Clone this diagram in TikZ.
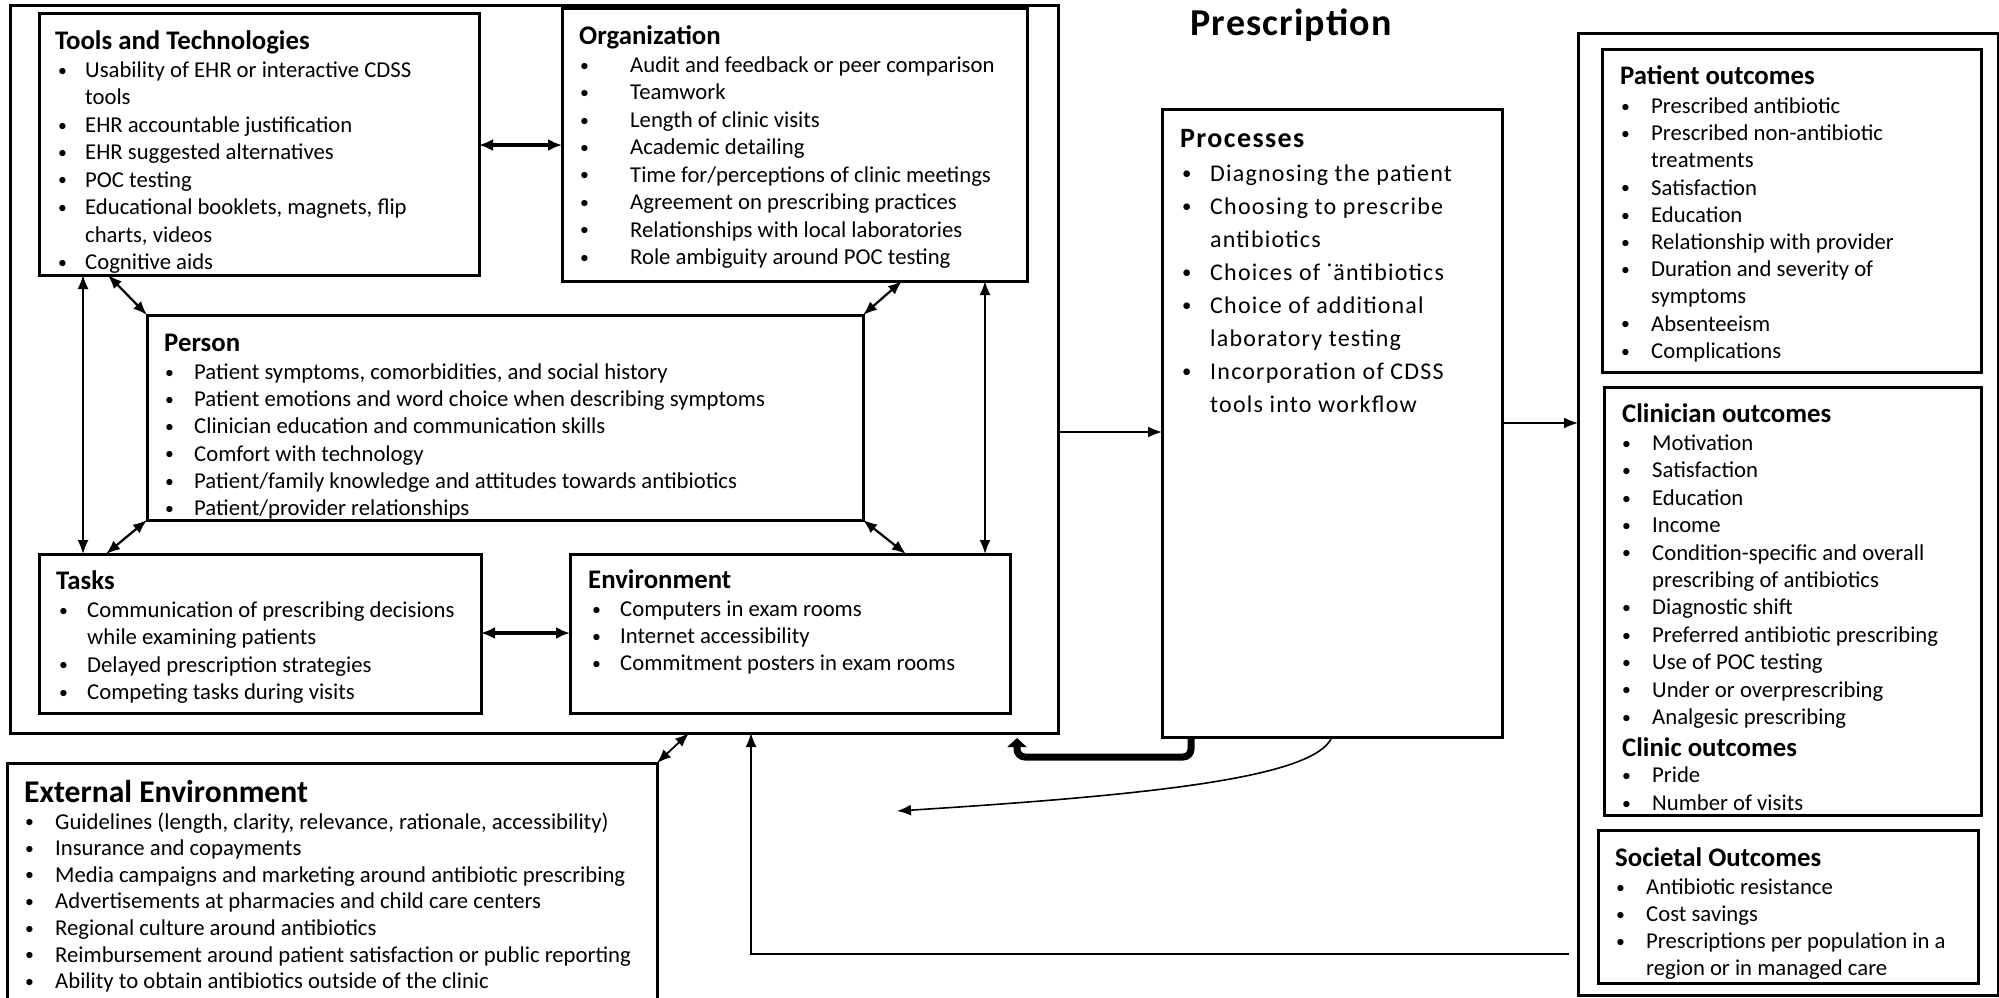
\documentclass[tikz,border=0pt]{standalone}
\usepackage{fontspec}
\usepackage{graphicx}
\setmainfont{Carlito}
\newfontfamily\procfont{Carlito}[LetterSpace=5]
\newfontfamily\bigtitlefont{Carlito}[LetterSpace=3]
\usetikzlibrary{arrows.meta,calc}

% bullet list helpers: \bl starts a bulleted line, \cn continues it
\newlength\bulind
\setlength\bulind{28pt}
\newcommand\smallbullet{\raisebox{0.12ex}{\scalebox{0.78}{\textbullet}}}
\newcommand\bl[1]{\makebox[\bulind][l]{\smallbullet}#1}
\newcommand\cn[1]{\hspace*{\bulind}#1}
\newcommand\bodyfont[1]{\fontsize{22.7}{#1}\selectfont}

\tikzset{
  frame/.style={draw, line width=3pt, inner sep=0pt, outer sep=0pt, anchor=north west},
  head/.style={anchor=base west, inner sep=0pt, font=\fontsize{26.8}{30}\selectfont\bfseries},
  items/.style={anchor=base west, inner sep=0pt},
  both/.style={line width=2.2pt, {Latex[length=14pt,width=11pt]}-{Latex[length=14pt,width=11pt]}},
  bothheavy/.style={line width=3.2pt, {Latex[length=14pt,width=12pt]}-{Latex[length=14pt,width=12pt]}},
  flow/.style={line width=1.8pt, -{Latex[length=14pt,width=11pt]}},
}

\begin{document}
\begin{tikzpicture}[x=1pt,y=-1pt]
\fill[white] (0,0) rectangle (1999,997);
\useasboundingbox (0,0) rectangle (1999,997);

% ---------- work system (left group) ----------
\node[frame, minimum width=1048pt, minimum height=728pt] (outer) at (10,5) {};
\node[frame, minimum width=440pt, minimum height=262pt] (tools) at (39,13) {};
\node[frame, minimum width=465pt, minimum height=273pt] (org) at (562,8) {};
\node[frame, minimum width=716pt, minimum height=205pt] (person) at (147,315) {};
\node[frame, minimum width=442pt, minimum height=159pt] (tasks) at (39,554) {};
\node[frame, minimum width=440pt, minimum height=159pt] (env) at (570,554) {};
\node[frame, minimum width=650pt, minimum height=260pt] (extenv) at (7,763) {};

\node[head] (toolsT) at (55,49) {Tools and Technologies};
\node[items, font=\bodyfont{27.43}] (toolsL) at (58,77.5) {\setlength\bulind{27pt}%
  \begin{tabular}[t]{@{}l@{}}
  \bl{Usability of EHR or interactive CDSS}\\
  \cn{tools}\\
  \bl{EHR accountable justification}\\
  \bl{EHR suggested alternatives}\\
  \bl{POC testing}\\
  \bl{Educational booklets, magnets, flip}\\
  \cn{charts, videos}\\
  \bl{Cognitive aids}
  \end{tabular}};

\node[head] (orgT) at (579,44) {Organization};
\node[items, font=\bodyfont{27.43}] (orgL) at (580,72.5) {\setlength\bulind{50pt}%
  \begin{tabular}[t]{@{}l@{}}
  \bl{Audit and feedback or peer comparison}\\
  \bl{Teamwork}\\
  \bl{Length of clinic visits}\\
  \bl{Academic detailing}\\
  \bl{Time for/perceptions of clinic meetings}\\
  \bl{Agreement on prescribing practices}\\
  \bl{Relationships with local laboratories}\\
  \bl{Role ambiguity around POC testing}
  \end{tabular}};

\node[head] (personT) at (164,351) {Person};
\node[items, font=\bodyfont{27.2}] (personL) at (165,379.5) {\setlength\bulind{29pt}%
  \begin{tabular}[t]{@{}l@{}}
  \bl{Patient symptoms, comorbidities, and social history}\\
  \bl{Patient emotions and word choice when describing symptoms}\\
  \bl{Clinician education and communication skills}\\
  \bl{Comfort with technology}\\
  \bl{Patient/family knowledge and attitudes towards antibiotics}\\
  \bl{Patient/provider relationships}
  \end{tabular}};

\node[head] (tasksT) at (56,589) {Tasks};
\node[items, font=\bodyfont{27.3}] (tasksL) at (59,617.5) {\setlength\bulind{28pt}%
  \begin{tabular}[t]{@{}l@{}}
  \bl{Communication of prescribing decisions}\\
  \cn{while examining patients}\\
  \bl{Delayed prescription strategies}\\
  \bl{Competing tasks during visits}
  \end{tabular}};

\node[head] (envT) at (588,588) {Environment};
\node[items, font=\bodyfont{27}] (envL) at (592,616.5) {\setlength\bulind{28pt}%
  \begin{tabular}[t]{@{}l@{}}
  \bl{Computers in exam rooms}\\
  \bl{Internet accessibility}\\
  \bl{Commitment posters in exam rooms}
  \end{tabular}};

\node[anchor=base west, inner sep=0pt, font=\fontsize{31.6}{36}\selectfont\bfseries] (extenvT) at (24,802) {External Environment};
\node[items, font=\bodyfont{26.6}] (extenvL) at (25,829) {\setlength\bulind{30pt}%
  \begin{tabular}[t]{@{}l@{}}
  \bl{Guidelines (length, clarity, relevance, rationale, accessibility)}\\
  \bl{Insurance and copayments}\\
  \bl{Media campaigns and marketing around antibiotic prescribing}\\
  \bl{Advertisements at pharmacies and child care centers}\\
  \bl{Regional culture around antibiotics}\\
  \bl{Reimbursement around patient satisfaction or public reporting}\\
  \bl{Ability to obtain antibiotics outside of the clinic}
  \end{tabular}};

% ---------- processes ----------
\node[anchor=base, inner sep=0pt, font=\bigtitlefont\fontsize{38}{42}\selectfont\bfseries] (title) at (1291,35) {Prescription};
\node[frame, minimum width=340pt, minimum height=628pt] (proc) at (1162,109) {};
\node[anchor=base west, inner sep=0pt, font=\procfont\fontsize{28}{32}\selectfont\bfseries] (procT) at (1180,147.5) {Processes};
\node[items, font=\procfont\fontsize{24}{33}\selectfont] (procL) at (1182,181) {\setlength\bulind{28pt}%
  \begin{tabular}[t]{@{}l@{}}
  \bl{Diagnosing the patient}\\
  \bl{Choosing to prescribe}\\
  \cn{antibiotics}\\
  \bl{Choices of ˙äntibiotics}\\
  \bl{Choice of additional}\\
  \cn{laboratory testing}\\
  \bl{Incorporation of CDSS}\\
  \cn{tools into workflow}
  \end{tabular}};

% ---------- outcomes ----------
\node[frame, minimum width=420pt, minimum height=962pt] (outc) at (1578,33) {};
\node[frame, minimum width=379pt, minimum height=323pt] (patient) at (1602,49) {};
\node[frame, minimum width=377pt, minimum height=428pt] (clin) at (1604,387) {};
\node[frame, minimum width=380pt, minimum height=153pt] (soc) at (1598,830) {};

\node[head] (patientT) at (1620,84) {Patient outcomes};
\node[items, font=\bodyfont{27.2}] (patientL) at (1621,113.5) {\setlength\bulind{30pt}%
  \begin{tabular}[t]{@{}l@{}}
  \bl{Prescribed antibiotic}\\
  \bl{Prescribed non-antibiotic}\\
  \cn{treatments}\\
  \bl{Satisfaction}\\
  \bl{Education}\\
  \bl{Relationship with provider}\\
  \bl{Duration and severity of}\\
  \cn{symptoms}\\
  \bl{Absenteeism}\\
  \bl{Complications}
  \end{tabular}};

\node[head] (clinT) at (1622,422) {Clinician outcomes};
\node[items, font=\bodyfont{27.4}] (clinL) at (1622,450.5) {\setlength\bulind{30pt}%
  \begin{tabular}[t]{@{}l@{}}
  \bl{Motivation}\\
  \bl{Satisfaction}\\
  \bl{Education}\\
  \bl{Income}\\
  \bl{Condition-specific and overall}\\
  \cn{prescribing of antibiotics}\\
  \bl{Diagnostic shift}\\
  \bl{Preferred antibiotic prescribing}\\
  \bl{Use of POC testing}\\
  \bl{Under or overprescribing}\\
  \bl{Analgesic prescribing}
  \end{tabular}};
\node[head] (clinicT) at (1622,756) {Clinic outcomes};
\node[items, font=\bodyfont{28}] (clinicL) at (1622,782.5) {\setlength\bulind{30pt}%
  \begin{tabular}[t]{@{}l@{}}
  \bl{Pride}\\
  \bl{Number of visits}
  \end{tabular}};

\node[head] (socT) at (1615,866) {Societal Outcomes};
\node[items, font=\bodyfont{27}] (socL) at (1616,894.5) {\setlength\bulind{30pt}%
  \begin{tabular}[t]{@{}l@{}}
  \bl{Antibiotic resistance}\\
  \bl{Cost savings}\\
  \bl{Prescriptions per population in a}\\
  \cn{region or in managed care}
  \end{tabular}};

% ---------- helper coordinates ----------
\coordinate (yTO) at (0,145);
\coordinate (yTE) at (0,633);
\coordinate (yOP) at (0,432);
\coordinate (yPO) at (0,423);
\coordinate (yFB) at (0,954);
\coordinate (yHook) at (0,757);
\coordinate (xTT) at (83,0);
\coordinate (xTP) at (108,0);
\coordinate (xOP) at (902,0);
\coordinate (xPT) at (106,0);
\coordinate (xPE) at (906,0);
\coordinate (xOE) at (985,0);
\coordinate (xOX) at (689,0);
\coordinate (xFB) at (751,0);
\coordinate (xHookA) at (1191,0);
\coordinate (xHookB) at (1017,0);
\coordinate (xCurve) at (1332,0);
\coordinate (curveEnd) at (897,811);

% ---------- connectors ----------
\draw[bothheavy] (tools.east |- yTO) -- (org.west |- yTO);
\draw[bothheavy] (tasks.east |- yTE) -- (env.west |- yTE);
\draw[both, line width=1.6pt] (xTT |- tools.south) -- (xTT |- tasks.north);
\draw[both] (xTP |- tools.south) -- (person.north west);
\draw[both] (xOP |- org.south) -- (person.north east);
\draw[both] (person.south west) -- (xPT |- tasks.north);
\draw[both] (person.south east) -- (xPE |- env.north);
\draw[both, line width=1.8pt] (xOE |- org.south) -- (xOE |- env.north);
\draw[both, line width=1.8pt] (xOX |- outer.south) -- (extenv.north east);

\draw[flow] (outer.east |- yOP) -- (proc.west |- yOP);
\draw[flow] (proc.east |- yPO) -- (outc.west |- yPO);
\draw[flow, line width=1.5pt, shorten <=9pt] (outc.west |- yFB) -- (xFB |- yFB) -- (xFB |- outer.south);
\draw[line width=7pt, rounded corners=8pt, -{Triangle[length=9pt,width=19pt]}, shorten >=5pt]
  (xHookA |- proc.south) -- (xHookA |- yHook) -- (xHookB |- yHook) -- (xHookB |- outer.south);
\draw[flow, line width=1.6pt] (xCurve |- proc.south) .. controls (1315,778) and (1150,795) .. (curveEnd);

\end{tikzpicture}
\end{document}
